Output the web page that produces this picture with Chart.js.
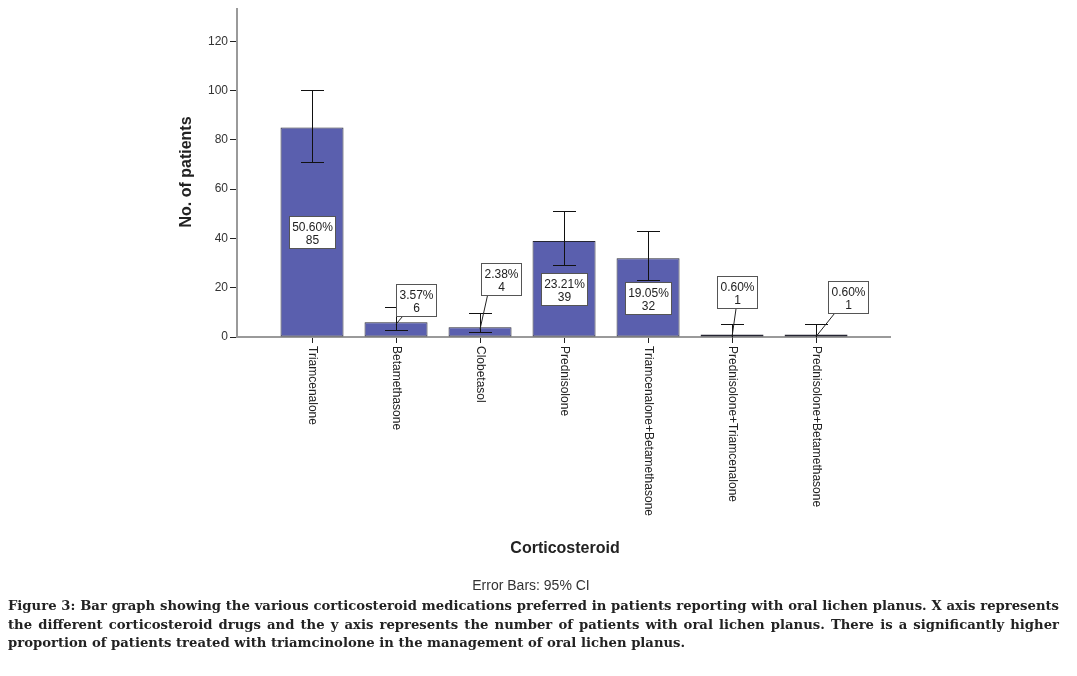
<!DOCTYPE html>
<html>
<head>
<meta charset="utf-8">
<script src="https://cdn.jsdelivr.net/npm/chart.js@4.4.0/dist/chart.umd.min.js"></script>
<style>
  body { margin: 0; background: #fff; width: 1077px; height: 676px; overflow: hidden; }
  #wrap { position: absolute; left: 0; top: 0; width: 1077px; height: 600px; }
  .caption {
    position: absolute; left: 8px; top: 597px; width: 1051px;
    font-family: "DejaVu Serif", serif; font-weight: bold;
    font-size: 13.2px; line-height: 18.5px; color: #222;
  }
  .caption .j { text-align: justify; text-align-last: justify; white-space: nowrap; }
</style>
</head>
<body>
<div id="wrap"><canvas id="chart" width="1077" height="600"></canvas></div>
<div class="caption">
  <div class="j">Figure 3: Bar graph showing the various corticosteroid medications preferred in patients reporting with oral lichen planus. X axis represents</div>
  <div class="j">the different corticosteroid drugs and the y axis represents the number of patients with oral lichen planus. There is a significantly higher</div>
  <div>proportion of patients treated with triamcinolone in the management of oral lichen planus.</div>
</div>
<script>
// Data
const categories = [
  "Triamcenalone",
  "Betamethasone",
  "Clobetasol",
  "Prednisolone",
  "Triamcenalone+Betamethasone",
  "Prednisolone+Triamcenalone",
  "Prednisolone+Betamethasone",
];
const counts = [85, 6, 4, 39, 32, 1, 1];
const percents = ["50.60%", "3.57%", "2.38%", "23.21%", "19.05%", "0.60%", "0.60%"];
const ciHigh = [100.2, 12.2, 9.6, 51.0, 43.2, 5.1, 5.1];
const ciLow = [71.1, 2.8, 1.9, 29.1, 23.0, -3, -3];
const yTicks = [0, 20, 40, 60, 80, 100, 120];

// pixel shift of callout boxes (null = box sits inside the bar)
const calloutShift = [null, [20, -22], [21, -48], null, null, [5, -43], [32, -38]];

const ink = "#222";

const annotations = {
  id: "annotations",
  afterDatasetsDraw(chart) {
    const { ctx, scales: { x, y } } = chart;
    ctx.save();

    // error bars
    ctx.strokeStyle = "#111";
    ctx.lineWidth = 1;
    categories.forEach((c, i) => {
      const px = Math.round(x.getPixelForValue(i)) + 0.5;
      const hi = Math.round(y.getPixelForValue(ciHigh[i])) + 0.5;
      const lo = Math.round(y.getPixelForValue(Math.max(ciLow[i], 0))) + 0.5;
      ctx.beginPath();
      ctx.moveTo(px, hi);
      ctx.lineTo(px, lo);
      ctx.moveTo(px - 11.5, hi);
      ctx.lineTo(px + 11.5, hi);
      if (ciLow[i] > 0) {
        ctx.moveTo(px - 11.5, lo);
        ctx.lineTo(px + 11.5, lo);
      }
      ctx.stroke();
    });

    // value boxes
    ctx.font = "12px 'Liberation Sans', Arial, sans-serif";
    ctx.textAlign = "center";
    ctx.textBaseline = "alphabetic";
    categories.forEach((c, i) => {
      const px = x.getPixelForValue(i);
      const w = Math.ceil(Math.max(ctx.measureText(percents[i]).width, ctx.measureText(String(counts[i])).width)) + 5;
      const h = 32;
      let cx, cy;
      const shift = calloutShift[i];
      if (shift) {
        cx = px + shift[0];
        cy = y.getPixelForValue(counts[i]) + shift[1];
      } else {
        cx = px;
        cy = y.getPixelForValue(counts[i] / 2);
      }
      const left = Math.round(cx - w / 2) + 0.5;
      const top = Math.round(cy - h / 2) + 0.5;
      if (shift) {
        const sx = Math.min(Math.max(px + 4, left + 6), left + w - 6);
        ctx.strokeStyle = "#222";
        ctx.beginPath();
        ctx.moveTo(sx, top + h);
        ctx.lineTo(px, y.getPixelForValue(counts[i]) + 2);
        ctx.stroke();
      }
      ctx.fillStyle = "#fff";
      ctx.fillRect(left, top, w, h);
      ctx.strokeStyle = "#555";
      ctx.strokeRect(left, top, w, h);
      ctx.fillStyle = ink;
      ctx.fillText(percents[i], left + w / 2, top + 14);
      ctx.fillText(String(counts[i]), left + w / 2, top + 27);
    });
    ctx.restore();
  },
  afterDraw(chart) {
    const { ctx, chartArea, scales: { x } } = chart;
    ctx.save();
    ctx.fillStyle = ink;

    // rotated category labels, reading top to bottom
    ctx.font = "12px 'Liberation Sans', Arial, sans-serif";
    ctx.textAlign = "left";
    ctx.textBaseline = "middle";
    categories.forEach((c, i) => {
      ctx.save();
      ctx.translate(x.getPixelForValue(i), chartArea.bottom + 9);
      ctx.rotate(Math.PI / 2);
      ctx.fillText(c, 0, 0);
      ctx.restore();
    });

    // axis titles
    ctx.font = "bold 16px 'Liberation Sans', Arial, sans-serif";
    ctx.textAlign = "center";
    ctx.fillText("Corticosteroid", 565, 549);
    ctx.save();
    ctx.translate(187, 172);
    ctx.rotate(-Math.PI / 2);
    ctx.fillText("No. of patients", 0, 0);
    ctx.restore();

    ctx.font = "14px 'Liberation Sans', Arial, sans-serif";
    ctx.fillStyle = "#333";
    ctx.fillText("Error Bars: 95% CI", 531, 586);
    ctx.restore();
  },
};

const ctx = document.getElementById("chart").getContext("2d");
const chart = new Chart(ctx, {
  type: "bar",
  data: {
    datasets: [
      {
        label: "No. of patients",
        data: categories.map((c, i) => ({ x: i, y: counts[i] })),
        backgroundColor: "#5a5fae",
        borderColor: "#262633",
        borderWidth: 1,
        borderSkipped: false,
        categoryPercentage: 0.75,
        barPercentage: 1,
      },
    ],
  },
  options: {
    responsive: false,
    animation: false,
    layout: { padding: { top: 8, right: 187, left: 0, bottom: 0 } },
    plugins: { legend: { display: false }, tooltip: { enabled: false } },
    scales: {
      x: {
        type: "linear",
        offset: false,
        min: -0.893,
        max: 6.88,
        afterBuildTicks: (s) => { s.ticks = categories.map((c, i) => ({ value: i })); },
        afterFit: (s) => { s.height = 263; },
        ticks: { display: false },
        grid: { offset: false, drawOnChartArea: false, tickLength: 6, color: "#222" },
        border: { color: "#9a9a9a", width: 2 },
      },
      y: {
        min: 0,
        max: 133,
        afterBuildTicks: (s) => { s.ticks = yTicks.map((v) => ({ value: v })); },
        afterFit: (s) => { s.width = 237; },
        ticks: {
          color: "#333",
          padding: 2,
          font: { family: "'Liberation Sans', Arial, sans-serif", size: 12 },
        },
        grid: { drawOnChartArea: false, tickLength: 7, color: "#222" },
        border: { color: "#9a9a9a", width: 2 },
      },
    },
  },
  plugins: [annotations],
});
</script>
</body>
</html>
